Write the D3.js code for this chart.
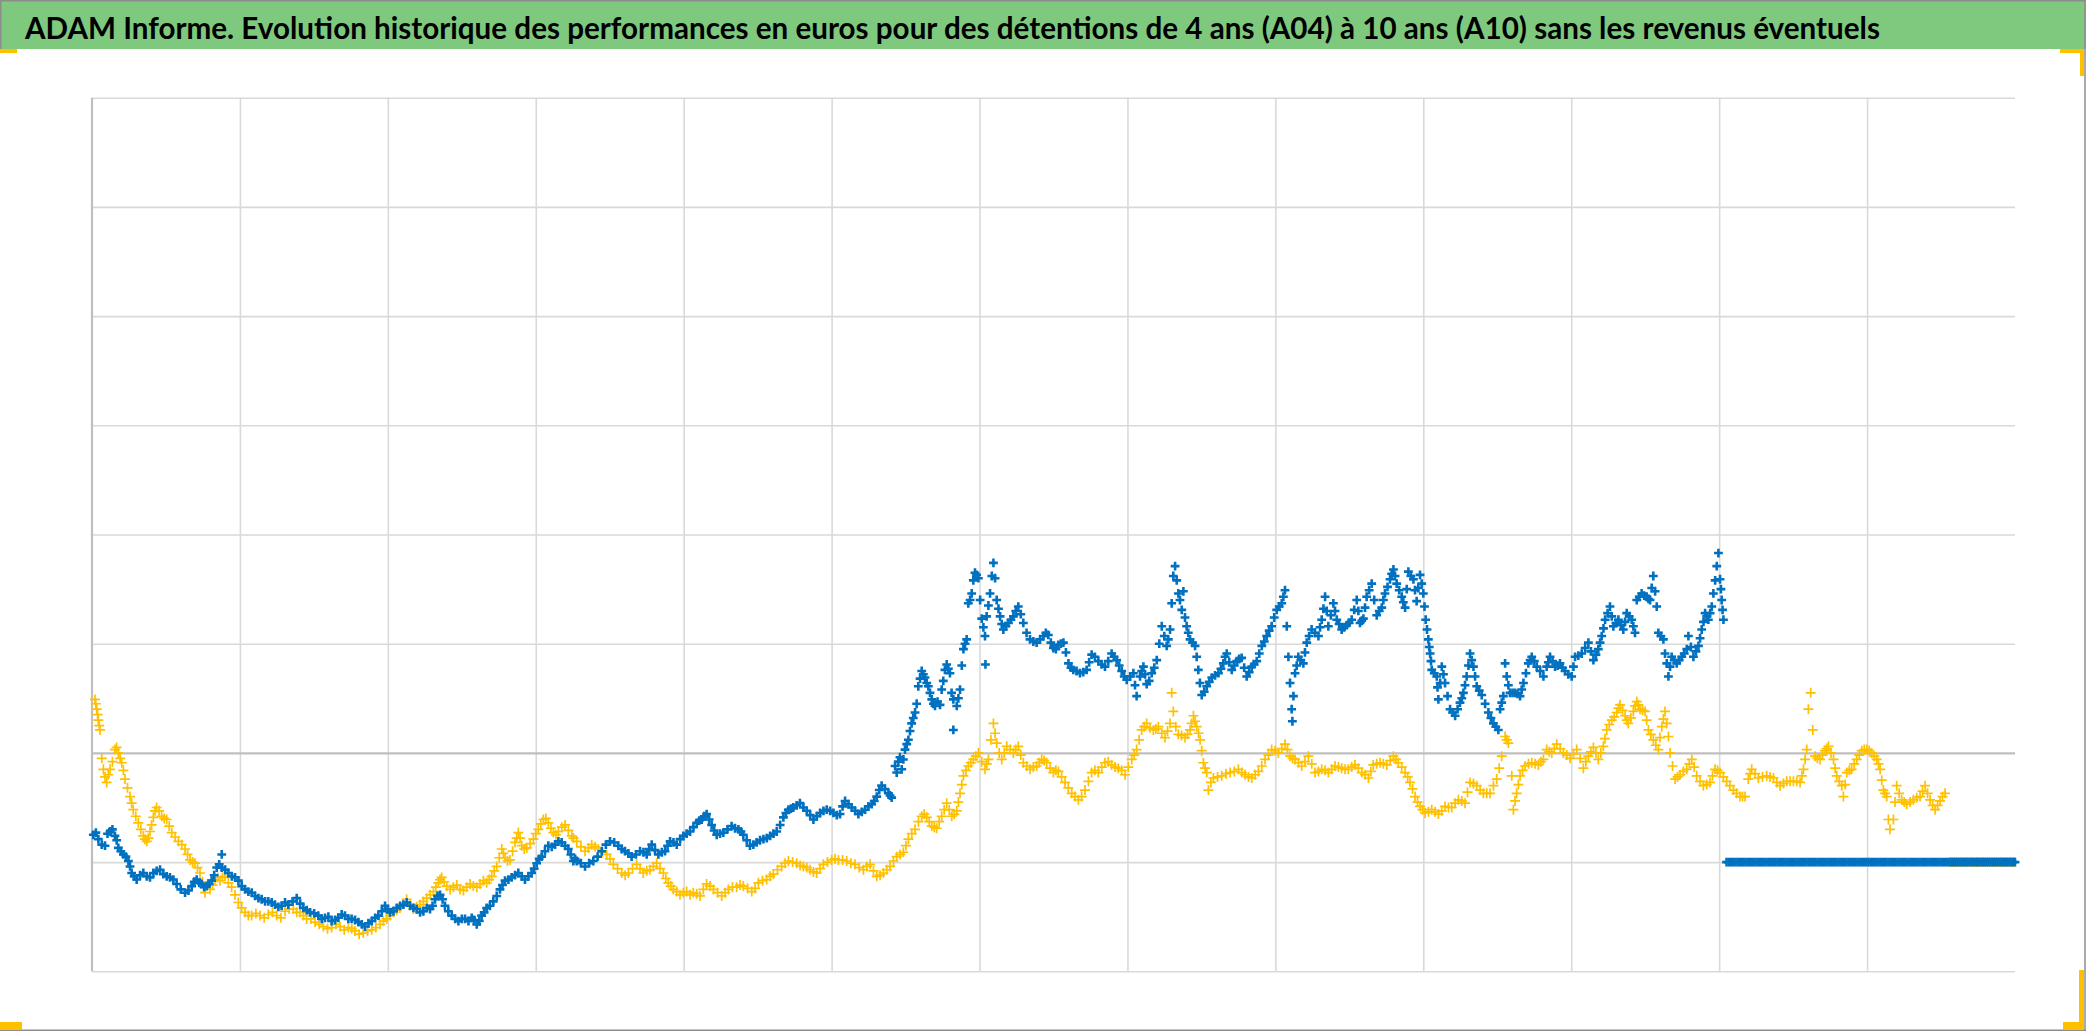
<!DOCTYPE html>
<html><head><meta charset="utf-8">
<script src="https://cdn.jsdelivr.net/npm/d3@7"></script>
<style>html,body{margin:0;padding:0;background:#fff;overflow:hidden}</style>
</head><body>
<svg id="c" width="2086" height="1031"></svg>
<script>
const titre = "ADAM Informe. Evolution historique des performances en euros pour des détentions de 4 ans (A04) à 10 ans (A10) sans les revenus éventuels";
const xGrille = [0,1,2,3,4,5,6,7,8,9,10,11,12,13];
const yGrille = [-200,-100,0,100,200,300,400,500,600];

// [années depuis le début, performance]
const serieJaune = [
[0.020,49],[0.032,40],[0.043,30],[0.054,21],[0.077,-15],[0.099,-27],[0.122,-15],[0.155,3],[0.178,0],[0.201,-9],[0.223,-24],[0.257,-40],[0.279,-52],[0.313,-64],[0.347,-76],[0.370,-81],[0.392,-72],[0.415,-59],[0.437,-50],[0.471,-58],[0.505,-61],[0.539,-73],[0.584,-81],[0.629,-88],[0.663,-98],[0.696,-101],[0.730,-110],[0.764,-128],[0.798,-125],[0.832,-116],[0.865,-117],[0.899,-113],[0.944,-123],[0.989,-137],[1.034,-146],[1.079,-149],[1.136,-149],[1.192,-148],[1.248,-149],[1.305,-145],[1.361,-143],[1.406,-146],[1.451,-152],[1.508,-155],[1.564,-159],[1.620,-160],[1.677,-159],[1.733,-160],[1.778,-163],[1.834,-165],[1.891,-162],[1.947,-157],[1.992,-152],[2.037,-146],[2.082,-142],[2.127,-134],[2.172,-143],[2.217,-139],[2.263,-133],[2.308,-127],[2.341,-119],[2.364,-114],[2.398,-122],[2.443,-123],[2.488,-125],[2.533,-123],[2.578,-122],[2.623,-120],[2.668,-119],[2.702,-113],[2.736,-104],[2.770,-88],[2.792,-96],[2.826,-98],[2.860,-82],[2.882,-73],[2.905,-85],[2.939,-87],[2.984,-79],[3.017,-70],[3.051,-61],[3.085,-64],[3.119,-73],[3.153,-72],[3.198,-66],[3.243,-76],
[3.277,-81],[3.333,-90],[3.378,-84],[3.423,-88],[3.479,-93],[3.524,-102],[3.581,-110],[3.626,-110],[3.682,-102],[3.727,-110],[3.772,-107],[3.817,-101],[3.862,-110],[3.896,-119],[3.930,-125],[3.975,-130],[4.020,-127],[4.065,-128],[4.110,-131],[4.155,-120],[4.201,-125],[4.257,-131],[4.302,-125],[4.358,-123],[4.403,-122],[4.460,-127],[4.505,-119],[4.561,-116],[4.606,-111],[4.662,-104],[4.708,-99],[4.764,-101],[4.809,-104],[4.854,-107],[4.899,-110],[4.944,-102],[5.000,-98],[5.046,-98],[5.102,-99],[5.158,-102],[5.215,-107],[5.260,-102],[5.305,-113],[5.350,-110],[5.395,-104],[5.440,-95],[5.485,-91],[5.519,-79],[5.564,-70],[5.609,-58],[5.643,-59],[5.677,-67],[5.710,-69],[5.744,-58],[5.778,-46],[5.812,-58],[5.846,-53],[5.868,-37],[5.891,-21],[5.924,-12],[5.958,-6],[5.992,0],[6.037,-15],[6.060,-6],[6.094,27],[6.116,9],[6.150,-6],[6.184,6],[6.229,0],[6.262,6],[6.296,-9],[6.341,-15],[6.386,-12],[6.420,-6],[6.454,-9],[6.499,-18],[6.533,-17],
[6.578,-27],[6.623,-37],[6.668,-43],[6.713,-34],[6.758,-18],[6.803,-18],[6.848,-9],[6.893,-11],[6.938,-14],[6.984,-20],[7.029,-6],[7.062,3],[7.096,21],[7.130,27],[7.175,21],[7.209,24],[7.254,14],[7.288,27],[7.299,55],[7.310,38],[7.344,17],[7.389,14],[7.423,21],[7.446,34],[7.468,24],[7.491,12],[7.513,-9],[7.536,-18],[7.547,-34],[7.581,-23],[7.637,-21],[7.694,-18],[7.750,-15],[7.795,-20],[7.840,-23],[7.885,-17],[7.930,-6],[7.975,3],[8.020,0],[8.065,8],[8.099,-3],[8.133,-6],[8.178,-12],[8.223,-3],[8.268,-18],[8.313,-15],[8.358,-18],[8.403,-12],[8.448,-14],[8.493,-15],[8.538,-11],[8.584,-18],[8.629,-23],[8.662,-11],[8.708,-9],[8.753,-11],[8.798,-3],[8.831,-9],[8.877,-18],[8.910,-27],[8.944,-40],[8.978,-49],[9.012,-55],[9.057,-52],[9.102,-56],[9.147,-49],[9.192,-50],[9.237,-43],[9.282,-46],[9.316,-27],[9.361,-30],[9.406,-37],[9.451,-37],[9.496,-24],[9.530,-3],[9.553,15],[9.575,9],[9.598,-21],[9.609,-52],[9.631,-37],[9.654,-21],[9.688,-12],[9.733,-9],[9.778,-11],[9.812,-6],
[9.834,3],[9.868,0],[9.902,8],[9.947,0],[9.992,-5],[10.037,3],[10.082,-14],[10.116,-3],[10.150,5],[10.183,-6],[10.217,6],[10.240,21],[10.274,30],[10.307,37],[10.330,44],[10.364,34],[10.386,27],[10.420,38],[10.443,47],[10.465,40],[10.499,38],[10.522,21],[10.555,12],[10.589,3],[10.612,24],[10.634,38],[10.657,15],[10.668,0],[10.702,-24],[10.736,-20],[10.781,-15],[10.815,-6],[10.848,-21],[10.893,-30],[10.938,-27],[10.972,-15],[11.006,-18],[11.051,-26],[11.096,-34],[11.141,-40],[11.175,-40],[11.197,-24],[11.220,-15],[11.265,-23],[11.321,-21],[11.367,-23],[11.412,-30],[11.457,-26],[11.502,-26],[11.547,-27],[11.570,-15],[11.592,3],[11.603,40],[11.619,55],[11.633,21],[11.648,-3],[11.682,-6],[11.716,2],[11.739,6],[11.773,-6],[11.795,-21],[11.829,-30],[11.840,-40],[11.863,-18],[11.896,-15],[11.930,-6],[11.964,2],[11.998,3],[12.031,0],[12.065,-6],[12.088,-15],[12.110,-34],[12.133,-40],[12.144,-61],[12.155,-70],[12.178,-61],[12.200,-30],[12.234,-43],[12.268,-47],[12.313,-43],[12.358,-40],[12.392,-30],[12.426,-43],[12.460,-52],[12.493,-44],[12.527,-37],
[12.56,-100],[12.59,-100],[12.62,-100],[12.65,-100],[12.68,-100],[12.71,-100],[12.74,-100],[12.77,-100],[12.80,-100],[12.83,-100],[12.86,-100],[12.89,-100],[12.92,-100],[12.95,-100],[12.98,-100],
[0.026,45],[0.038,35],[0.049,25],[0.066,-5],[0.088,-22],[0.110,-20],[0.138,-8],[0.166,5],[0.190,-5],[0.212,-16],[0.240,-32],[0.268,-46],[0.296,-58],[0.330,-70],[0.358,-79],[0.381,-78],[0.403,-66],[0.426,-53],[0.454,-53],[0.488,-60],[0.522,-67],[0.562,-77],[0.607,-84],[0.646,-93],[0.680,-100],[0.713,-105],[0.747,-118],[0.781,-120],[0.815,-121],[0.849,-114],[0.882,-114],[0.922,-119],[0.967,-130],[1.012,-142],[1.057,-149],[1.108,-147],[1.164,-151],[1.220,-146],[1.277,-151],[1.333,-143],[1.384,-146],[1.429,-149],[1.480,-152],[1.536,-157],[1.592,-161],[1.649,-157],[1.705,-162],[1.756,-161],[1.806,-166],[1.863,-163],[1.919,-160],[1.970,-154],[2.015,-149],[2.060,-144],[2.105,-138],[2.150,-139],[2.195,-141],[2.240,-136],[2.286,-130],[2.325,-123],[2.353,-116],[2.381,-118],[2.421,-125],[2.466,-121],[2.511,-126],[2.556,-120],[2.601,-123],[2.646,-117],[2.685,-116],[2.719,-108],[2.753,-96],[2.781,-92],[2.809,-99],[2.843,-90],[2.871,-78],[2.894,-78],[2.922,-88],[2.962,-83],[3.000,-74],[3.034,-65],[3.068,-60],[3.102,-69],[3.136,-75],[3.176,-68],[3.220,-71],
[3.255,-78],[3.305,-86],[3.356,-87],[3.401,-86],[3.451,-91],[3.502,-97],[3.553,-106],[3.604,-112],[3.654,-106],[3.705,-106],[3.750,-108],[3.795,-104],[3.840,-106],[3.879,-115],[3.913,-122],[3.953,-127],[3.998,-128],[4.043,-130],[4.088,-129],[4.133,-125],[4.178,-122],[4.229,-128],[4.280,-128],[4.330,-123],[4.381,-121],[4.432,-124],[4.483,-124],[4.533,-117],[4.584,-113],[4.634,-107],[4.685,-101],[4.736,-100],[4.787,-103],[4.832,-105],[4.877,-109],[4.922,-106],[4.972,-100],[5.023,-97],[5.074,-98],[5.130,-101],[5.187,-105],[5.238,-104],[5.283,-108],[5.328,-112],[5.373,-107],[5.418,-99],[5.463,-93],[5.502,-85],[5.542,-74],[5.587,-63],[5.626,-56],[5.660,-63],[5.694,-68],[5.727,-63],[5.761,-52],[5.795,-52],[5.829,-56],[5.857,-45],[5.880,-29],[5.908,-16],[5.941,-9],[5.975,-3],[6.015,-8],[6.049,-10],[6.077,12],[6.105,18],[6.133,0],[6.167,0],[6.207,3],[6.245,3],[6.279,-2],[6.319,-12],[6.364,-13],[6.403,-9],[6.437,-7],[6.477,-14],[6.516,-16],
[6.555,-22],[6.600,-32],[6.645,-40],[6.690,-40],[6.736,-26],[6.780,-16],[6.826,-13],[6.870,-8],[6.916,-13],[6.961,-16],[7.006,-13],[7.045,-2],[7.079,12],[7.113,24],[7.152,23],[7.192,22],[7.232,18],[7.271,20],[7.327,24],[7.366,16],[7.406,17],[7.434,27],[7.457,29],[7.480,18],[7.502,2],[7.525,-14],[7.564,-27],[7.609,-22],[7.666,-19],[7.722,-17],[7.773,-18],[7.818,-22],[7.863,-20],[7.908,-12],[7.953,-2],[7.998,2],[8.043,4],[8.082,3],[8.116,-5],[8.156,-9],[8.200,-8],[8.246,-10],[8.291,-17],[8.336,-16],[8.381,-15],[8.426,-13],[8.471,-15],[8.516,-13],[8.561,-14],[8.606,-20],[8.646,-17],[8.685,-10],[8.730,-10],[8.776,-7],[8.815,-6],[8.854,-13],[8.894,-22],[8.927,-33],[8.961,-45],[8.995,-52],[9.035,-54],[9.080,-54],[9.125,-53],[9.170,-50],[9.215,-46],[9.260,-44],[9.299,-36],[9.339,-28],[9.384,-34],[9.429,-37],[9.474,-30],[9.513,-14],[9.564,12],[9.620,-44],[9.643,-29],[9.671,-16],[9.711,-10],[9.756,-10],[9.795,-8],
[9.851,1],[9.885,4],[9.925,4],[9.970,-2],[10.015,-1],[10.060,-5],[10.099,-8],[10.133,1],[10.167,0],[10.200,0],[10.228,13],[10.257,26],[10.290,33],[10.319,41],[10.347,39],[10.375,30],[10.403,32],[10.432,43],[10.454,44],[10.482,39],[10.510,30],[10.538,17],[10.572,7],[10.600,14],[10.623,31],[10.645,27],[10.685,-12],[10.719,-22],[10.758,-17],[10.798,-10],[10.831,-13],[10.871,-26],[10.916,-29],[10.955,-21],[10.989,-16],[11.028,-22],[11.073,-30],[11.118,-37],[11.158,-40],[11.209,-19],[11.243,-19],[11.293,-22],[11.344,-22],[11.390,-27],[11.435,-28],[11.480,-26],[11.525,-26],[11.559,-21],[11.581,-6],[11.664,-5],[11.699,-2],[11.727,4],[11.756,0],[11.784,-14],[11.812,-26],[11.852,-29],[11.880,-16],[11.913,-10],[11.947,-2],[11.981,3],[12.015,2],[12.048,-3],[12.077,-10],[12.099,-25],[12.121,-37],[12.189,-45],[12.217,-37],[12.251,-45],[12.291,-45],[12.336,-41],[12.375,-35],[12.409,-37],[12.443,-48],[12.477,-48],[12.510,-40],
[12.575,-100],[12.605,-100],[12.635,-100],[12.665,-100],[12.695,-100],[12.725,-100],[12.755,-100],[12.785,-100],[12.815,-100],[12.845,-100],[12.875,-100],[12.905,-100],[12.935,-100],[12.965,-100],[12.995,-100]
];

const serieBleue = [
[0.009,-75],[0.043,-79],[0.088,-85],[0.122,-72],[0.155,-76],[0.178,-87],[0.212,-93],[0.246,-99],[0.268,-110],[0.302,-116],[0.347,-110],[0.392,-114],[0.437,-108],[0.482,-111],[0.527,-114],[0.572,-120],[0.629,-128],[0.674,-122],[0.708,-116],[0.741,-120],[0.775,-122],[0.809,-117],[0.843,-105],[0.877,-105],[0.877,-93],[0.922,-110],[0.967,-114],[1.012,-122],[1.057,-127],[1.102,-131],[1.147,-134],[1.192,-136],[1.237,-139],[1.282,-140],[1.327,-139],[1.384,-133],[1.429,-142],[1.474,-146],[1.530,-149],[1.575,-151],[1.620,-154],[1.665,-151],[1.710,-149],[1.755,-152],[1.801,-155],[1.846,-159],[1.891,-154],[1.936,-149],[1.981,-140],[2.015,-146],[2.060,-142],[2.105,-139],[2.150,-140],[2.195,-143],[2.240,-145],[2.285,-143],[2.319,-134],[2.353,-130],[2.386,-140],[2.432,-149],[2.477,-154],[2.522,-152],[2.567,-151],[2.601,-157],[2.634,-149],[2.668,-142],[2.713,-136],[2.758,-125],[2.792,-117],[2.837,-114],[2.882,-110],[2.927,-116],[2.972,-110],[3.006,-101],[3.040,-95],[3.085,-85],[3.130,-84],[3.175,-82],[3.220,-88],[3.254,-99],
[3.277,-99],[3.333,-104],[3.389,-99],[3.446,-90],[3.502,-81],[3.558,-85],[3.603,-90],[3.648,-95],[3.705,-90],[3.750,-93],[3.784,-84],[3.829,-93],[3.874,-90],[3.908,-81],[3.953,-84],[3.998,-76],[4.043,-72],[4.088,-64],[4.122,-61],[4.155,-56],[4.189,-66],[4.223,-75],[4.268,-73],[4.324,-67],[4.370,-70],[4.403,-75],[4.448,-85],[4.493,-82],[4.539,-79],[4.584,-76],[4.629,-72],[4.674,-59],[4.708,-52],[4.741,-50],[4.786,-46],[4.832,-53],[4.877,-61],[4.922,-55],[4.967,-52],[5.012,-55],[5.057,-56],[5.091,-44],[5.136,-50],[5.181,-56],[5.226,-52],[5.271,-47],[5.305,-40],[5.338,-30],[5.384,-37],[5.406,-41],[5.429,-12],[5.451,-8],[5.474,-15],[5.496,3],[5.519,12],[5.541,27],[5.564,37],[5.586,61],[5.609,75],[5.631,69],[5.654,61],[5.677,49],[5.699,43],[5.733,44],[5.755,66],[5.778,81],[5.800,73],[5.823,49],[5.823,21],[5.846,43],[5.868,58],[5.891,95],[5.913,104],[5.924,137],[5.947,146],[5.969,165],[5.992,160],[6.015,123],[6.037,107],[6.040,81],[6.048,125],[6.071,146],[6.094,174],[6.116,140],[6.139,125],[6.161,113],[6.195,119],[6.229,125],[6.262,134],[6.296,119],[6.341,104],[6.386,101],[6.432,107],[6.465,108],[6.499,96],[6.533,99],
[6.567,101],[6.601,82],[6.634,76],[6.679,73],[6.724,76],[6.758,90],[6.803,84],[6.848,79],[6.893,91],[6.927,85],[6.961,75],[6.995,67],[7.040,73],[7.062,52],[7.085,70],[7.108,79],[7.130,63],[7.164,73],[7.198,85],[7.232,116],[7.265,98],[7.288,113],[7.310,162],[7.322,171],[7.344,146],[7.367,131],[7.378,148],[7.400,116],[7.423,104],[7.457,98],[7.479,76],[7.502,53],[7.536,61],[7.570,69],[7.615,73],[7.648,82],[7.671,91],[7.705,76],[7.739,84],[7.772,87],[7.806,70],[7.840,79],[7.874,84],[7.908,98],[7.941,107],[7.975,116],[8.009,131],[8.043,137],[8.065,149],[8.077,116],[8.088,88],[8.110,40],[8.115,29],[8.122,52],[8.133,73],[8.155,88],[8.189,82],[8.212,101],[8.245,113],[8.291,107],[8.313,122],[8.336,143],[8.358,116],[8.392,137],[8.415,122],[8.448,113],[8.482,117],[8.516,122],[8.550,140],[8.572,119],[8.595,123],[8.617,143],[8.651,155],[8.685,126],[8.719,133],[8.741,146],[8.775,159],[8.798,168],[8.820,155],[8.854,143],[8.877,133],[8.899,166],[8.933,159],[8.955,139],[8.978,163],[9.000,146],[9.016,122],[9.034,104],[9.046,91],[9.057,76],[9.091,70],[9.102,49],[9.125,79],[9.147,64],[9.181,40],[9.215,34],[9.248,46],[9.271,55],[9.293,70],[9.316,91],[9.339,79],[9.361,61],[9.395,53],[9.440,37],[9.474,27],[9.507,21],[9.519,40],[9.541,52],[9.553,82],[9.564,70],[9.586,55],[9.620,55],[9.654,52],[9.677,64],[9.710,82],[9.733,88],[9.767,79],[9.812,70],
[9.834,79],[9.857,88],[9.891,79],[9.924,82],[9.958,75],[10.003,70],[10.026,88],[10.071,91],[10.116,101],[10.150,85],[10.183,95],[10.206,107],[10.229,122],[10.262,134],[10.285,116],[10.319,122],[10.352,113],[10.375,128],[10.409,122],[10.431,110],[10.443,140],[10.476,146],[10.510,143],[10.533,140],[10.555,162],[10.578,134],[10.589,110],[10.623,104],[10.634,91],[10.646,82],[10.657,70],[10.679,88],[10.713,82],[10.747,88],[10.781,95],[10.792,107],[10.826,88],[10.860,98],[10.882,113],[10.905,128],[10.927,122],[10.950,134],[10.961,146],[10.984,171],[10.995,183],[11.006,159],[11.017,140],[11.029,122],
[11.05,-100],[11.08,-100],[11.11,-100],[11.14,-100],[11.17,-100],[11.20,-100],[11.23,-100],[11.26,-100],[11.29,-100],[11.32,-100],[11.35,-100],[11.38,-100],[11.41,-100],[11.44,-100],[11.47,-100],[11.50,-100],[11.53,-100],[11.56,-100],[11.59,-100],[11.62,-100],[11.65,-100],[11.68,-100],[11.71,-100],[11.74,-100],[11.77,-100],[11.80,-100],[11.83,-100],[11.86,-100],[11.89,-100],[11.92,-100],[11.95,-100],[11.98,-100],[12.01,-100],[12.04,-100],[12.07,-100],[12.10,-100],[12.13,-100],[12.16,-100],[12.19,-100],[12.22,-100],[12.25,-100],[12.28,-100],[12.31,-100],[12.34,-100],[12.37,-100],[12.40,-100],[12.43,-100],[12.46,-100],[12.49,-100],[12.52,-100],[12.55,-100],[12.58,-100],[12.61,-100],[12.64,-100],[12.67,-100],[12.70,-100],[12.73,-100],[12.76,-100],[12.79,-100],[12.82,-100],[12.85,-100],[12.88,-100],[12.91,-100],[12.94,-100],[12.97,-100],[13.00,-100],
[0.026,-73],[0.066,-84],[0.105,-74],[0.138,-70],[0.167,-80],[0.195,-90],[0.229,-95],[0.257,-104],[0.285,-113],[0.325,-112],[0.370,-113],[0.415,-110],[0.460,-107],[0.505,-113],[0.550,-116],[0.600,-125],[0.652,-126],[0.691,-118],[0.725,-119],[0.758,-123],[0.792,-120],[0.826,-112],[0.860,-102],[0.900,-107],[0.945,-113],[0.990,-117],[1.035,-125],[1.080,-128],[1.125,-133],[1.170,-136],[1.215,-137],[1.260,-141],[1.305,-137],[1.356,-136],[1.407,-138],[1.452,-144],[1.502,-147],[1.553,-152],[1.598,-150],[1.643,-153],[1.688,-148],[1.733,-152],[1.778,-153],[1.824,-157],[1.869,-156],[1.914,-151],[1.959,-145],[1.998,-143],[2.038,-145],[2.083,-140],[2.128,-137],[2.173,-142],[2.218,-146],[2.263,-142],[2.302,-140],[2.336,-131],[2.370,-134],[2.409,-145],[2.455,-152],[2.500,-152],[2.545,-154],[2.584,-153],[2.618,-154],[2.651,-146],[2.690,-140],[2.736,-131],[2.775,-121],[2.815,-116],[2.860,-112],[2.905,-113],[2.950,-113],[2.989,-106],[3.023,-97],[3.062,-90],[3.108,-86],[3.153,-81],[3.198,-85],[3.237,-93],
[3.266,-97],[3.305,-101],[3.361,-101],[3.418,-95],[3.474,-84],[3.530,-82],[3.581,-88],[3.626,-92],[3.677,-93],[3.728,-91],[3.767,-88],[3.806,-89],[3.852,-91],[3.891,-85],[3.931,-82],[3.976,-79],[4.020,-74],[4.066,-68],[4.105,-62],[4.139,-58],[4.172,-61],[4.206,-71],[4.246,-74],[4.296,-70],[4.347,-69],[4.387,-72],[4.426,-80],[4.471,-84],[4.516,-80],[4.562,-78],[4.607,-74],[4.652,-66],[4.691,-55],[4.725,-51],[4.764,-48],[4.809,-50],[4.855,-57],[4.900,-58],[4.945,-53],[4.990,-53],[5.035,-57],[5.074,-49],[5.114,-47],[5.159,-53],[5.204,-54],[5.249,-49],[5.288,-44],[5.322,-34],[5.361,-33],[5.395,-39],
[5.440,-18],[5.462,-4],[5.485,-6],[5.508,8],[5.530,20],[5.552,32],[5.575,45],[5.598,68],[5.620,72],[5.643,64],[5.665,55],[5.688,45],[5.716,47],[5.744,58],[5.766,76],[5.789,77],[5.811,55],[5.857,50],[5.880,80],[5.902,100],[5.936,140],[5.958,158],[5.980,163],[6.004,140],[6.026,115],[6.060,135],[6.083,162],[6.105,160],[6.128,132],[6.150,118],[6.178,116],[6.212,122],[6.245,130],[6.279,127],[6.318,110],[6.364,102],[6.409,104],[6.448,110],[6.482,101],[6.516,95],
[6.550,100],[6.584,92],[6.618,78],[6.656,75],[6.701,74],[6.741,83],[6.780,88],[6.825,81],[6.870,84],[6.910,88],[6.944,80],[6.978,70],[7.018,70],[7.051,62],[7.096,75],[7.119,72],[7.147,66],[7.181,78],[7.215,100],[7.249,107],[7.276,104],[7.299,137],[7.333,158],[7.355,140],[7.389,124],[7.411,110],[7.440,101],[7.468,88],[7.490,64],[7.519,56],[7.553,65],[7.592,71],[7.632,77],[7.660,88],[7.688,83],[7.722,80],[7.755,86],[7.789,78],[7.823,74],[7.857,81],[7.891,91],[7.925,102],[7.958,112],[7.992,124],[8.026,134],[8.054,143],[8.099,64],[8.144,80],[8.172,85],[8.200,92],[8.228,107],[8.268,110],[8.302,115],[8.325,132],[8.347,130],[8.375,126],[8.403,130],[8.431,118],[8.465,115],[8.499,119],[8.533,131],[8.561,130],[8.584,121],[8.606,133],[8.634,149],[8.668,140],[8.702,130],[8.730,140],[8.758,152],[8.786,164],[8.809,162],[8.837,149],[8.865,138],[8.888,150],[8.916,162],[8.944,149],[8.966,151],[8.989,155],[9.008,134],[9.025,113],[9.040,97],[9.052,84],[9.074,73],[9.096,60],[9.114,64],[9.136,72],[9.164,52],[9.198,37],[9.232,40],[9.260,50],[9.282,62],[9.305,80],[9.327,85],[9.350,70],[9.378,57],[9.418,45],[9.457,32],[9.490,24],[9.530,46],[9.575,62],[9.603,55],[9.637,54],[9.665,58],[9.694,73],[9.722,85],[9.750,84],[9.790,75],
[9.845,83],[9.874,84],[9.908,80],[9.941,78],[9.980,72],[10.015,79],[10.048,89],[10.094,96],[10.133,93],[10.167,90],[10.195,101],[10.218,114],[10.246,128],[10.274,125],[10.302,119],[10.336,117],[10.364,120],[10.392,125],[10.420,116],[10.460,143],[10.493,144],[10.522,141],[10.544,151],[10.567,148],[10.606,107],[10.668,79],[10.696,85],[10.730,85],[10.764,91],[10.809,97],[10.843,93],[10.871,105],[10.894,120],[10.916,125],[10.939,128],[10.973,158],[11.012,150],[11.023,131],
[11.065,-100],[11.095,-100],[11.125,-100],[11.155,-100],[11.185,-100],[11.215,-100],[11.245,-100],[11.275,-100],[11.305,-100],[11.335,-100],[11.365,-100],[11.395,-100],[11.425,-100],[11.455,-100],[11.485,-100],[11.515,-100],[11.545,-100],[11.575,-100],[11.605,-100],[11.635,-100],[11.665,-100],[11.695,-100],[11.725,-100],[11.755,-100],[11.785,-100],[11.815,-100],[11.845,-100],[11.875,-100],[11.905,-100],[11.935,-100],[11.965,-100],[11.995,-100],[12.025,-100],[12.055,-100],[12.085,-100],[12.115,-100],[12.145,-100],[12.175,-100],[12.205,-100],[12.235,-100],[12.265,-100],[12.295,-100],[12.325,-100],[12.355,-100],[12.385,-100],[12.415,-100],[12.445,-100],[12.475,-100],[12.505,-100],[12.535,-100],[12.565,-100],[12.595,-100],[12.625,-100],[12.655,-100],[12.685,-100],[12.715,-100],[12.745,-100],[12.775,-100],[12.805,-100],[12.835,-100],[12.865,-100],[12.895,-100],[12.925,-100],[12.955,-100],[12.985,-100]
];

const W = 2086, H = 1031;
const svg = d3.select("#c");
svg.append("rect").attr("width", W).attr("height", H).attr("fill", "#ffffff");

// bandeau titre
svg.append("rect").attr("x", 0).attr("y", 0).attr("width", W).attr("height", 49).attr("fill", "#7ec97e");
svg.append("text").attr("x", 25).attr("y", 39)
  .attr("font-family", "Lato, 'Open Sans', 'DejaVu Sans', sans-serif")
  .attr("font-weight", 700).attr("font-size", 31).attr("fill", "#000")
  .attr("textLength", 1855).attr("lengthAdjust", "spacingAndGlyphs")
  .text(titre);

const m = {l: 92, r: 2015, t: 97.7, b: 971.3};
const x = d3.scaleLinear().domain([0, 13]).range([m.l, m.r]);
const y = d3.scaleLinear().domain([-200, 600]).range([m.b, m.t]);

// grille verticale
const gx = svg.append("g").attr("transform", `translate(0,${m.b})`)
  .call(d3.axisBottom(x).tickValues(xGrille.filter(d => d > 0 && d < 13)).tickSize(-(m.b - m.t)).tickFormat(""));
gx.select(".domain").remove();
gx.selectAll(".tick line").attr("stroke", "#d9d9d9").attr("stroke-width", 1.6);

// grille horizontale
const gy = svg.append("g").attr("transform", `translate(${m.l},0)`)
  .call(d3.axisLeft(y).tickValues(yGrille).tickSize(-(m.r - m.l)).tickFormat(""));
gy.select(".domain").remove();
gy.selectAll(".tick line").attr("stroke", d => d === 0 ? "#bfbfbf" : "#d9d9d9").attr("stroke-width", d => d === 0 ? 2.2 : 1.6);
gy.selectAll(".tick").filter(d => d === 0).raise();

// axe vertical
svg.append("line").attr("x1", x(0)).attr("x2", x(0)).attr("y1", y(600)).attr("y2", y(-200))
  .attr("stroke", "#bfbfbf").attr("stroke-width", 2.2);

// séries
const croix = s => `M${-s},0H${s}M0,${-s}V${s}`;
svg.append("g").selectAll("path").data(serieJaune).join("path")
  .attr("transform", d => `translate(${x(d[0])},${y(d[1])})`)
  .attr("d", croix(5)).attr("stroke", "#ffc000").attr("stroke-width", 1.7).attr("fill", "none");
svg.append("g").selectAll("path").data(serieBleue).join("path")
  .attr("transform", d => `translate(${x(d[0])},${y(d[1])})`)
  .attr("d", croix(4.4)).attr("stroke", "#0070c0").attr("stroke-width", 2.6).attr("fill", "none");

// cadre
const gris = "#8c8c8c";
svg.append("line").attr("x1", 0).attr("x2", W).attr("y1", 0.75).attr("y2", 0.75).attr("stroke", gris).attr("stroke-width", 1.5);
svg.append("line").attr("x1", 0).attr("x2", W).attr("y1", H - 0.75).attr("y2", H - 0.75).attr("stroke", gris).attr("stroke-width", 1.5);
svg.append("line").attr("x1", W - 1).attr("x2", W - 1).attr("y1", 0).attr("y2", H).attr("stroke", gris).attr("stroke-width", 1.5);
svg.append("line").attr("x1", 0.75).attr("x2", 0.75).attr("y1", 0).attr("y2", 49).attr("stroke", gris).attr("stroke-width", 1.5);

// coins jaunes
const or = "#ffc000";
[[0, 49, 17, 4], [2060, 49, 24, 4], [2080, 49, 4, 27], [0, 1022, 22, 8], [2063, 1022, 21, 8], [2079, 970, 5, 60]]
  .forEach(r => svg.append("rect").attr("x", r[0]).attr("y", r[1]).attr("width", r[2]).attr("height", r[3]).attr("fill", or));
</script>
</body></html>
